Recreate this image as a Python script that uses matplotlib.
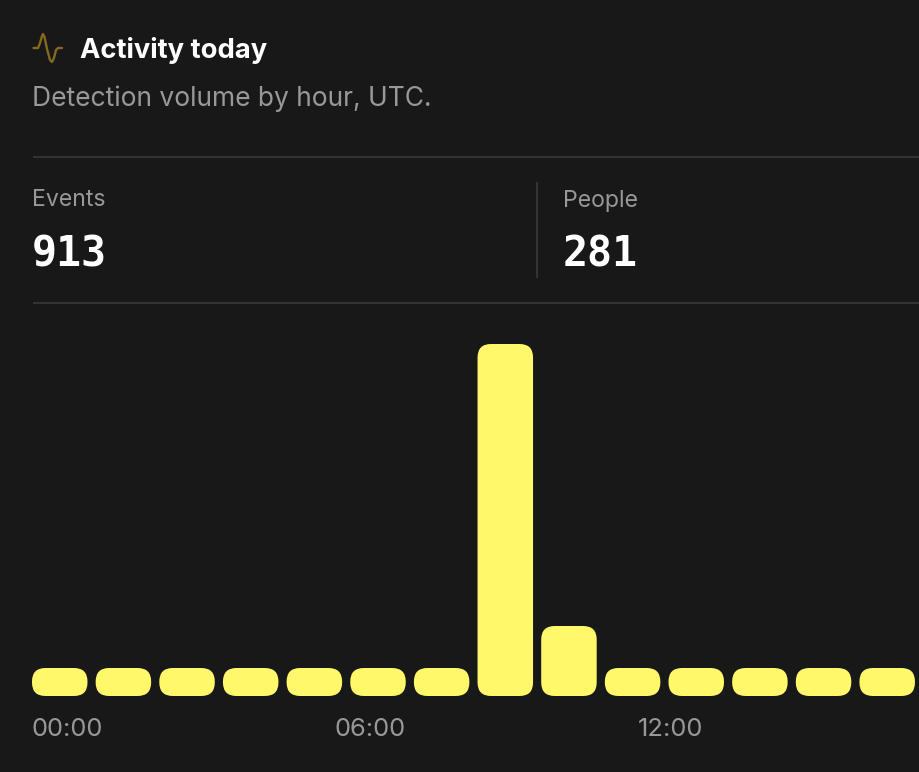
import matplotlib
matplotlib.use('Agg')
import matplotlib.pyplot as plt
from matplotlib.patches import FancyBboxPatch

# hourly bar heights, only the first 14 hours are in view
hours = list(range(14))
volume = [28, 28, 28, 28, 28, 28, 28, 352, 70, 28, 28, 28, 28, 28]
tick_labels = ['00:00', '06:00', '12:00']
title = 'Activity today'
subtitle = 'Detection volume by hour, UTC.'
stat_names = ['Events', 'People']
stat_values = ['913', '281']

W, H = 920, 772
BG = '#181818'
YELLOW = '#FFF86B'
GREY = '#989898'
RULE = '#333333'
PITCH = 63.65
BAR_W = 55.5
RADIUS = 13.5

plt.rcParams['font.family'] = ['Inter', 'DejaVu Sans']

fig = plt.figure(figsize=(W / 100, H / 100), dpi=100, facecolor=BG)

# overlay in pixel coordinates for the header bits
page = fig.add_axes([0, 0, 1, 1])
page.set_xlim(0, W)
page.set_ylim(H, 0)
page.axis('off')

page.text(80, 48, title, color='white', fontsize=19.7, fontweight='bold', va='center_baseline')
page.text(32, 96, subtitle, color=GREY, fontsize=19, va='center_baseline')

# pulse icon
page.plot([33.5, 38, 40, 42, 43, 44.5, 47, 50, 52, 54, 56, 58, 62],
          [48, 48, 43, 36, 34, 37, 49, 60, 62, 58, 50, 48, 48],
          color='#84691F', lw=1.7, solid_joinstyle='round', solid_capstyle='round')

page.plot([33, W + 2], [157, 157], color=RULE, lw=1.5, solid_capstyle='butt')
page.plot([33, W + 2], [303, 303], color=RULE, lw=1.5, solid_capstyle='butt')
page.plot([537, 537], [182, 278], color=RULE, lw=1.5, solid_capstyle='butt')

for x, name, val in zip([32, 563], stat_names, stat_values):
    page.text(x, 198, name, color=GREY, fontsize=16.6, va='center_baseline')
    page.text(x, 250, val, color='white', fontsize=30, fontweight='bold',
              family='DejaVu Sans Mono', va='center_baseline')

for x, lab, ha in zip([31.5, 370.5, 671], tick_labels, ['left', 'center', 'center']):
    page.text(x, 727, lab, color=GREY, fontsize=18.4, ha=ha, va='center_baseline')

# bars: x unit is one hour, y unit is one pixel
left = 32 + BAR_W / 2
ax = fig.add_axes([left / W - 0.5 * PITCH / W, (H - 696) / H, 1, 400 / H])
ax.set_xlim(-0.5, W / PITCH - 0.5)
ax.set_ylim(0, 400)
ax.axis('off')
for h, v in zip(hours, volume):
    ax.add_patch(FancyBboxPatch((h - BAR_W / PITCH / 2, 0), BAR_W / PITCH, v,
                                boxstyle='round,pad=0,rounding_size=%f' % (RADIUS / PITCH),
                                mutation_aspect=PITCH, fc=YELLOW, ec='none', clip_on=False))

fig.savefig('out.png', dpi=100, facecolor=BG)
